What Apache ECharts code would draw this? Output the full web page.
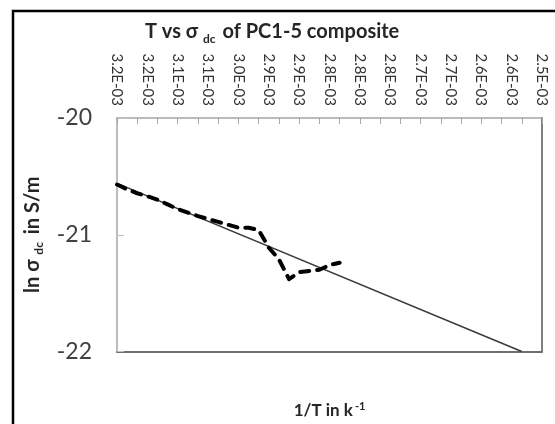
<!DOCTYPE html>
<html>
<head>
<meta charset="utf-8">
<script src="https://cdn.jsdelivr.net/npm/echarts@6/dist/echarts.min.js"></script>
<style>
  html, body { margin: 0; padding: 0; background: #fff; }
  #chart { width: 555px; height: 424px; }
</style>
</head>
<body>
<div id="chart"></div>
<script>
// 1/T labels (k^-1), one per category; only every third one is shown
const xLabels = [
  '3.2E-03', '3.2E-03', '3.2E-03', '3.2E-03', '3.2E-03', '3.1E-03', '3.1E-03', '3.1E-03', '3.1E-03',
  '3.1E-03', '3.1E-03', '3.0E-03', '3.0E-03', '3.0E-03', '2.9E-03', '2.9E-03', '2.9E-03', '2.9E-03',
  '2.9E-03', '2.9E-03', '2.8E-03', '2.8E-03', '2.8E-03', '2.8E-03', '2.8E-03', '2.8E-03', '2.8E-03',
  '2.8E-03', '2.7E-03', '2.7E-03', '2.7E-03', '2.7E-03', '2.7E-03', '2.7E-03', '2.6E-03', '2.6E-03',
  '2.6E-03', '2.6E-03', '2.6E-03', '2.6E-03', '2.5E-03', '2.5E-03', '2.5E-03'
];
// ln sigma_dc (S/m) measured
const lnSigma = [
  -20.57, -20.61, -20.645, -20.67, -20.70, -20.74, -20.78, -20.81, -20.84, -20.865,
  -20.89, -20.915, -20.94, -20.94, -20.96, -21.11, -21.21, -21.38, -21.32, -21.31,
  -21.30, -21.26, -21.24
];
// linear trendline (start / end category index and value)
const trendIdx = [0, 40];
const trendVal = [-20.56, -22.0];
const yTicks = { min: -22, max: -20, step: 1 };

const txt = '#404040';
const font = 'Lato, "Open Sans", sans-serif';

const chart = echarts.init(document.getElementById('chart'));

const option = {
  animation: false,
  backgroundColor: '#fff',
  title: {
    text: '{a|T vs σ }{s|dc}{a| of PC1-5 composite}',
    left: 140,
    top: 14,
    textStyle: {
      rich: {
        a: { fontFamily: font, fontWeight: 'bold', fontSize: 20, color: '#262626', lineHeight: 26 },
        s: { fontFamily: font, fontWeight: 'bold', fontSize: 12, color: '#262626', lineHeight: 12, verticalAlign: 'bottom', padding: [0, 2, 0, 0] }
      }
    }
  },
  graphic: [{
    type: 'rect',
    silent: true,
    shape: { x: 13, y: 11, width: 700, height: 600 },
    style: { fill: 'none', stroke: '#000', lineWidth: 2.5 }
  }],
  grid: { left: 117, right: 13, top: 118, bottom: 67 },
  xAxis: [{
    type: 'category',
    position: 'top',
    data: xLabels,
    boundaryGap: false,
    axisLine: { lineStyle: { color: '#a6a6a6', width: 1.5 } },
    axisTick: { inside: true, interval: 1, length: 6, lineStyle: { color: '#a6a6a6' } },
    axisLabel: { interval: 2, rotate: 90, margin: 12, fontSize: 15, color: '#333', fontFamily: font },
    splitLine: { show: false }
  }, {
    type: 'category',
    position: 'bottom',
    data: xLabels,
    boundaryGap: false,
    axisLine: { lineStyle: { color: '#6e6e6e', width: 2 } },
    axisTick: { show: false },
    axisLabel: { show: false },
    name: '{a|1/T in k}{p|-1}',
    nameLocation: 'middle',
    nameGap: 49,
    nameTextStyle: {
      rich: {
        a: { fontFamily: font, fontWeight: 'bold', fontSize: 17, color: '#262626', lineHeight: 20 },
        p: { fontFamily: font, fontWeight: 'bold', fontSize: 11, color: '#262626', lineHeight: 11, verticalAlign: 'top', padding: [0, 0, 0, 2] }
      }
    }
  }],
  yAxis: [{
    type: 'value',
    min: yTicks.min,
    max: yTicks.max,
    interval: yTicks.step,
    axisLine: { show: true, lineStyle: { color: '#a6a6a6', width: 1.5 } },
    axisTick: { show: true, inside: true, length: 7, lineStyle: { color: '#bfbfbf' } },
    axisLabel: { margin: 25, fontSize: 23, color: txt, fontFamily: font },
    splitLine: { show: false },
    name: '{a|ln σ }{s|dc}{a| in S/m}',
    nameLocation: 'middle',
    nameGap: 72,
    nameTextStyle: {
      rich: {
        a: { fontFamily: font, fontWeight: 'bold', fontSize: 20, color: '#262626', lineHeight: 24 },
        s: { fontFamily: font, fontWeight: 'bold', fontSize: 12, color: '#262626', lineHeight: 12, verticalAlign: 'bottom', padding: [0, 3, 0, 0] }
      }
    }
  }, {
    type: 'value',
    position: 'right',
    min: yTicks.min,
    max: yTicks.max,
    interval: yTicks.step,
    axisLine: { show: true, lineStyle: { color: '#7f7f7f', width: 2 } },
    axisTick: { show: false },
    axisLabel: { show: false },
    splitLine: { show: false }
  }],
  series: [{
    name: 'trend',
    type: 'line',
    data: trendIdx.map((i, k) => [i, trendVal[k]]),
    symbol: 'none',
    z: 1,
    lineStyle: { color: '#3a3a3a', width: 1.5 }
  }, {
    name: 'ln sigma dc',
    type: 'line',
    data: lnSigma,
    symbol: 'none',
    z: 2,
    lineStyle: { color: '#000', width: 4, type: [9, 8], cap: 'round', join: 'round' }
  }]
};

chart.setOption(option);
</script>
</body>
</html>
